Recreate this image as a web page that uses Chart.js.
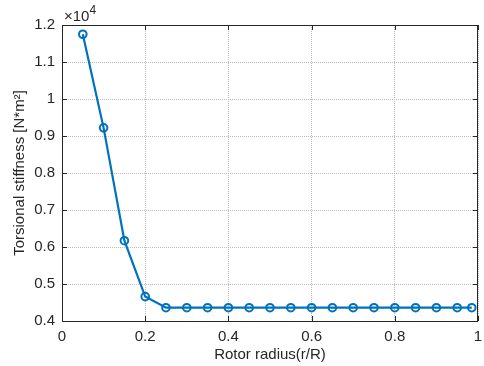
<!DOCTYPE html>
<html><head><meta charset="utf-8">
<script src="https://cdn.jsdelivr.net/npm/chart.js@4/dist/chart.umd.min.js"></script>
<style>html,body{margin:0;padding:0;background:#fff}#wrap{width:484px;height:366px}</style>
</head><body><div id="wrap"><canvas id="c" width="484" height="366"></canvas></div>
<script>
const radius = [0.05,0.10,0.15,0.20,0.25,0.30,0.35,0.40,0.45,0.50,0.55,0.60,0.65,0.70,0.75,0.80,0.85,0.90,0.95,0.985];
const stiffness = [11750,9220,6170,4660,4360,4360,4360,4360,4360,4360,4360,4360,4360,4360,4360,4360,4360,4360,4360,4360];
const xTicks = [0,0.2,0.4,0.6,0.8,1];
const yTicks = [4000,5000,6000,7000,8000,9000,10000,11000,12000];
const xLabel = 'Rotor radius(r/R)';
const yLabel = 'Torsional stiffness [N*m²]';
const exponentLabel = '×10';
const exponentPower = '4';

const FONT = '"Liberation Sans", Arial, sans-serif';
const AX = '#262626';

const boxPlugin = {
  id: 'box',
  afterDraw(chart) {
    const {ctx, chartArea: a, scales} = chart;
    ctx.save();
    ctx.strokeStyle = AX; ctx.lineWidth = 1;
    ctx.strokeRect(Math.round(a.left)+0.5, Math.round(a.top)+0.5, Math.round(a.right-a.left)-1, Math.round(a.bottom-a.top));
    const L = 5;
    ctx.beginPath();
    xTicks.forEach(v => {
      const x = Math.round(scales.x.getPixelForValue(v)) + 0.5;
      ctx.moveTo(x, a.bottom); ctx.lineTo(x, a.bottom - L);
      ctx.moveTo(x, a.top); ctx.lineTo(x, a.top + L);
    });
    yTicks.forEach(v => {
      const y = Math.round(scales.y.getPixelForValue(v)) + 0.5;
      ctx.moveTo(a.left, y); ctx.lineTo(a.left + L, y);
      ctx.moveTo(a.right, y); ctx.lineTo(a.right - L, y);
    });
    ctx.stroke();
    ctx.fillStyle = AX;
    ctx.font = '15px ' + FONT;
    ctx.textBaseline = 'alphabetic';
    ctx.textAlign = 'left';
    ctx.fillText(exponentLabel, a.left + 2, a.top - 4);
    const w = ctx.measureText(exponentLabel).width;
    ctx.font = '12px ' + FONT;
    ctx.fillText(exponentPower, a.left + 2 + w, a.top - 11);
    ctx.restore();
  }
};

new Chart(document.getElementById('c'), {
  type: 'line',
  data: {
    datasets: [{
      data: radius.map((r, i) => ({x: r, y: stiffness[i]})),
      borderColor: '#0072BD',
      borderWidth: 2.2,
      pointRadius: 3.8,
      pointBorderWidth: 2,
      pointBackgroundColor: 'rgba(255,255,255,0)',
      pointBorderColor: '#0072BD',
      tension: 0,
      clip: false
    }]
  },
  options: {
    responsive: false,
    animation: false,
    devicePixelRatio: 1,
    layout: {padding: {left: 0, right: 3, top: 25, bottom: 0}},
    plugins: {legend: {display: false}, tooltip: {enabled: false}},
    scales: {
      x: {
        type: 'linear', min: 0, max: 1,
        afterFit(s) { s.height = 45; s.paddingLeft = 0; s.paddingRight = 0; },
        afterBuildTicks(s) { s.ticks = xTicks.map(v => ({value: v})); },
        grid: {color: '#bdbdbd', drawTicks: false, lineWidth: 1},
        border: {display: false, dash: [1, 1]},
        ticks: {padding: 7, color: AX, font: {family: FONT, size: 15},
          callback: v => String(Math.round(v * 10) / 10)},
        title: {display: true, text: xLabel, color: AX, font: {family: FONT, size: 15},
          padding: {top: 0, bottom: 2}}
      },
      y: {
        type: 'linear', min: 4000, max: 12000,
        afterFit(s) { s.width = 62; s.paddingTop = 0; s.paddingBottom = 0; },
        afterBuildTicks(s) { s.ticks = yTicks.map(v => ({value: v})); },
        grid: {color: '#bdbdbd', drawTicks: false, lineWidth: 1},
        border: {display: false, dash: [1, 1]},
        ticks: {padding: 7, color: AX, font: {family: FONT, size: 15},
          callback: v => String(Math.round(v / 1000) / 10)},
        title: {display: true, text: yLabel, color: AX, font: {family: FONT, size: 15},
          padding: {top: 11, bottom: 0}}
      }
    }
  },
  plugins: [boxPlugin]
});
</script>
</body></html>
